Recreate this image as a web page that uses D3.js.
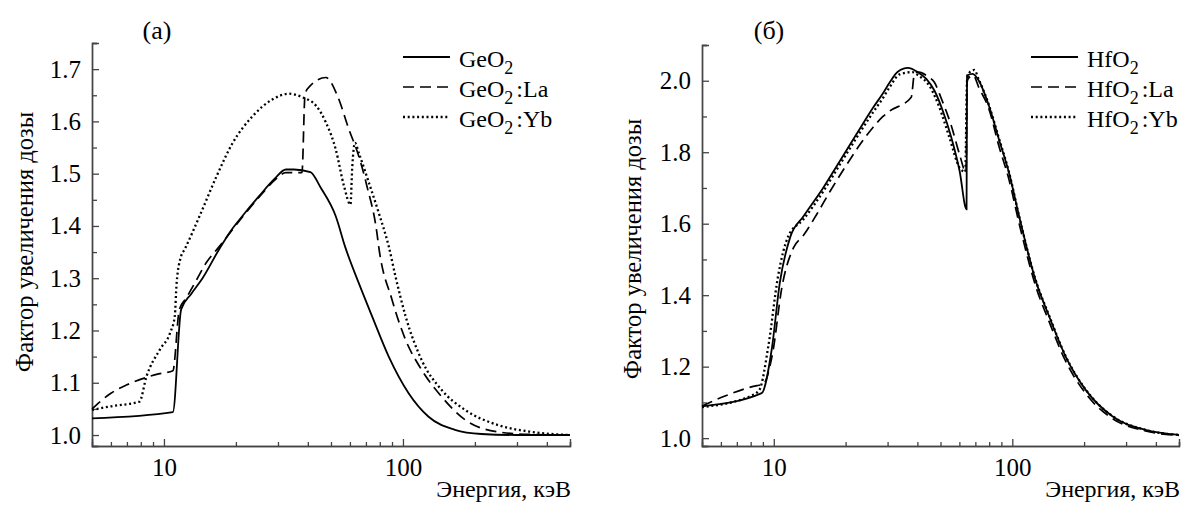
<!DOCTYPE html>
<html>
<head>
<meta charset="utf-8">
<script src="https://cdn.jsdelivr.net/npm/d3@7"></script>
<style>
  body { margin: 0; background: #fff; }
  svg { display: block; }
  text { font-family: "Liberation Serif", "Times New Roman", serif; fill: #000; }
</style>
</head>
<body>
<div id="chart"></div>
<script>
// energy (keV), dose enhancement factor
const geo2 = [[5, 1.032], [10.9, 1.044], [11.8, 1.24], [13, 1.27], [14.5, 1.30], [17, 1.355], [19, 1.39],
  [21.3, 1.419], [25, 1.457], [29, 1.49], [32.4, 1.508], [35, 1.508], [41, 1.503], [45.3, 1.473], [52.3, 1.419],
  [57.5, 1.358], [65.3, 1.291], [74.3, 1.227], [87.2, 1.150], [105.6, 1.080], [128, 1.035], [165, 1.010],
  [213, 1.002], [300, 1.0], [500, 1.0]];
const geo2La = [[5, 1.05], [6, 1.08], [7, 1.096], [9.5, 1.117], [10.9, 1.123], [11.6, 1.24], [12.4, 1.262],
  [13.7, 1.297], [15, 1.329], [17, 1.36], [21.3, 1.417], [25, 1.455], [29, 1.487], [32.4, 1.502], [37.8, 1.502],
  [38.9, 1.649], [39.8, 1.662], [47.6, 1.684], [53.2, 1.649], [59.4, 1.585], [65.3, 1.534], [70.7, 1.476],
  [77.8, 1.387], [79.2, 1.36], [90, 1.259], [102.6, 1.182], [119.6, 1.125], [145.3, 1.073], [182, 1.029],
  [250, 1.006], [345, 1.001], [500, 1.0]];
const geo2Yb = [[5, 1.048], [6, 1.055], [7.9, 1.064], [8.45, 1.112], [9.6, 1.163], [10.6, 1.195], [11.1, 1.227],
  [11.3, 1.291], [11.8, 1.342], [12.2, 1.355], [14.1, 1.419], [16.6, 1.495], [19.4, 1.559], [23.5, 1.610],
  [28.4, 1.642], [33.4, 1.653], [38, 1.646], [43.3, 1.630], [47.6, 1.598], [52.3, 1.547], [56.7, 1.476],
  [60.3, 1.441], [61.4, 1.515], [63, 1.559], [65.3, 1.540], [72, 1.483], [79.2, 1.425], [87.2, 1.361],
  [93, 1.304], [102.6, 1.227], [119.6, 1.144], [145.3, 1.086], [182, 1.048], [250, 1.019], [345, 1.006],
  [500, 1.0]];

const hfo2 = [[5, 1.089], [8.9, 1.126], [9.8, 1.248], [10.6, 1.435], [11.7, 1.561], [13.3, 1.62], [16.1, 1.70],
  [18.9, 1.775], [22.2, 1.85], [26.1, 1.925], [28.7, 1.965], [30.6, 1.995], [33.1, 2.025], [36.5, 2.036],
  [40.2, 2.024], [43.6, 2.005], [47.2, 1.972], [51.1, 1.916], [55.5, 1.841], [60.1, 1.748], [64.3, 1.64],
  [64.6, 2.015], [68.2, 2.019], [72.4, 2.0], [79.8, 1.930], [87.8, 1.837], [96.8, 1.743], [106.9, 1.62],
  [125.4, 1.44], [142.7, 1.341], [167.2, 1.229], [203, 1.135], [262.7, 1.061], [361.7, 1.023], [500, 1.009]];
const hfo2La = [[5, 1.09], [6.2, 1.117], [8.5, 1.147], [9.0, 1.15], [9.9, 1.24], [10.8, 1.42], [12.1, 1.533],
  [13.3, 1.567], [15.1, 1.625], [17.2, 1.69], [20.2, 1.765], [22.9, 1.82], [26.1, 1.87], [28.7, 1.9],
  [30.6, 1.915], [37.7, 1.954], [38.9, 2.02], [40.5, 2.024], [44.2, 2.012], [47.2, 1.995], [50.2, 1.953],
  [55.5, 1.874], [60.1, 1.794], [64.0, 1.743], [64.6, 2.0], [68.5, 2.015], [72.4, 1.981], [79.8, 1.921],
  [87.8, 1.818], [96.8, 1.724], [106.9, 1.60], [125.4, 1.425], [142.7, 1.326], [167.2, 1.216], [203, 1.125],
  [262.7, 1.055], [361.7, 1.02], [500, 1.008]];
const hfo2Yb = [[5, 1.087], [8.0, 1.118], [8.7, 1.135], [9.5, 1.26], [10.4, 1.45], [11.5, 1.565], [13.3, 1.612],
  [16.1, 1.69], [18.9, 1.765], [22.2, 1.84], [26.1, 1.912], [28.7, 1.952], [30.6, 1.982], [33.7, 2.018],
  [38.1, 2.024], [40.5, 2.014], [45.0, 1.985], [49.5, 1.925], [54.5, 1.841], [60.1, 1.757], [63.5, 1.745],
  [64.6, 2.0], [66.5, 2.025], [69.3, 2.03], [72.4, 2.003], [79.8, 1.932], [87.8, 1.84], [96.8, 1.745],
  [106.9, 1.62], [125.4, 1.442], [142.7, 1.343], [167.2, 1.23], [203, 1.136], [262.7, 1.062], [361.7, 1.023],
  [500, 1.009]];

const xMajor = [10, 100];
const xMinor = [6, 7, 8, 9, 20, 30, 40, 50, 60, 70, 80, 90, 200, 300, 400, 500];
const leftMajor = [1.0, 1.1, 1.2, 1.3, 1.4, 1.5, 1.6, 1.7];
const leftMinor = [1.05, 1.15, 1.25, 1.35, 1.45, 1.55, 1.65, 1.75];
const rightMajor = [1.0, 1.2, 1.4, 1.6, 1.8, 2.0];
const rightMinor = [1.1, 1.3, 1.5, 1.7, 1.9, 2.1];

const width = 1190, height = 505;
const styles = {
  solid: { w: 1.8, dash: null },
  dashed: { w: 1.7, dash: "11,6" },
  dotted: { w: 2.3, dash: "2,2.7" }
};

const svg = d3.select("#chart").append("svg")
  .attr("width", width)
  .attr("height", height);

function panel(p) {
  const x = d3.scaleLog().domain([5, 500]).range([p.x0, p.x1]);
  const y = d3.scaleLinear().domain(p.yDomain).range([446, p.yTop]);
  const g = svg.append("g");

  // minor ticks
  g.append("g").attr("transform", "translate(0,446)")
    .call(d3.axisBottom(x).tickValues(xMinor).tickSize(-4).tickFormat(""));
  g.append("g").attr("transform", "translate(" + p.x0 + ",0)")
    .call(d3.axisLeft(y).tickValues(p.yMinor).tickSize(-5).tickFormat(""));

  // major ticks + labels
  g.append("g").attr("transform", "translate(0,446)")
    .call(d3.axisBottom(x).tickValues(xMajor).tickSize(-7).tickPadding(12).tickFormat(d3.format("d")));
  g.append("g").attr("transform", "translate(" + p.x0 + ",0)")
    .call(d3.axisLeft(y).tickValues(p.yMajor).tickSize(-7).tickPadding(11).tickFormat(d3.format(".1f")));

  g.selectAll(".domain").attr("stroke", "#444").attr("stroke-width", 1.4);
  g.selectAll(".tick line").attr("stroke", "#444").attr("stroke-width", 1.3);
  g.selectAll(".tick text")
    .style("font-family", "'Liberation Serif', serif")
    .style("font-size", "25px")
    .attr("fill", "#000");

  const line = d3.line().curve(d3.curveMonotoneX).x(d => x(d[0])).y(d => y(d[1]));
  p.series.forEach(s => {
    const st = styles[s.style];
    g.append("path")
      .datum(s.data)
      .attr("d", line)
      .attr("fill", "none")
      .attr("stroke", "#000")
      .attr("stroke-width", st.w)
      .attr("stroke-dasharray", st.dash);
  });

  // legend
  p.series.forEach((s, i) => {
    const st = styles[s.style];
    const ly = 57 + i * 30;
    g.append("line")
      .attr("x1", p.legX).attr("x2", p.legX + 47)
      .attr("y1", ly).attr("y2", ly)
      .attr("stroke", "#000")
      .attr("stroke-width", st.w)
      .attr("stroke-dasharray", st.dash);
    const t = g.append("text")
      .attr("x", p.legX + 56).attr("y", ly + 10)
      .style("font-size", "24px");
    t.append("tspan").text(p.base);
    t.append("tspan").attr("dy", 7).style("font-size", "18px").text("2");
    if (s.dop) t.append("tspan").attr("dy", -7).attr("dx", 3).text(":" + s.dop);
  });

  // titles
  g.append("text")
    .attr("x", p.titleX).attr("y", 39)
    .attr("text-anchor", "middle")
    .style("font-size", "26px")
    .text(p.title);

  g.append("text")
    .attr("x", p.x1 + 1).attr("y", 497)
    .attr("text-anchor", "end")
    .style("font-size", "24px")
    .text("Энергия, кэВ");

  g.append("text")
    .attr("transform", "translate(" + p.yLabX + "," + p.yLabY + ") rotate(-90)")
    .attr("text-anchor", "middle")
    .style("font-size", "24.5px")
    .text("Фактор увеличения дозы");
}

panel({
  x0: 92, x1: 570, yTop: 43, yDomain: [0.979, 1.75],
  yMajor: leftMajor, yMinor: leftMinor,
  legX: 403, base: "GeO", title: "(a)", titleX: 157,
  yLabX: 33, yLabY: 242,
  series: [
    { data: geo2, style: "solid" },
    { data: geo2La, style: "dashed", dop: "La" },
    { data: geo2Yb, style: "dotted", dop: "Yb" }
  ]
});

panel({
  x0: 702, x1: 1179, yTop: 45, yDomain: [0.978, 2.1],
  yMajor: rightMajor, yMinor: rightMinor,
  legX: 1031, base: "HfO", title: "(б)", titleX: 769,
  yLabX: 641, yLabY: 249,
  series: [
    { data: hfo2, style: "solid" },
    { data: hfo2La, style: "dashed", dop: "La" },
    { data: hfo2Yb, style: "dotted", dop: "Yb" }
  ]
});
</script>
</body>
</html>
